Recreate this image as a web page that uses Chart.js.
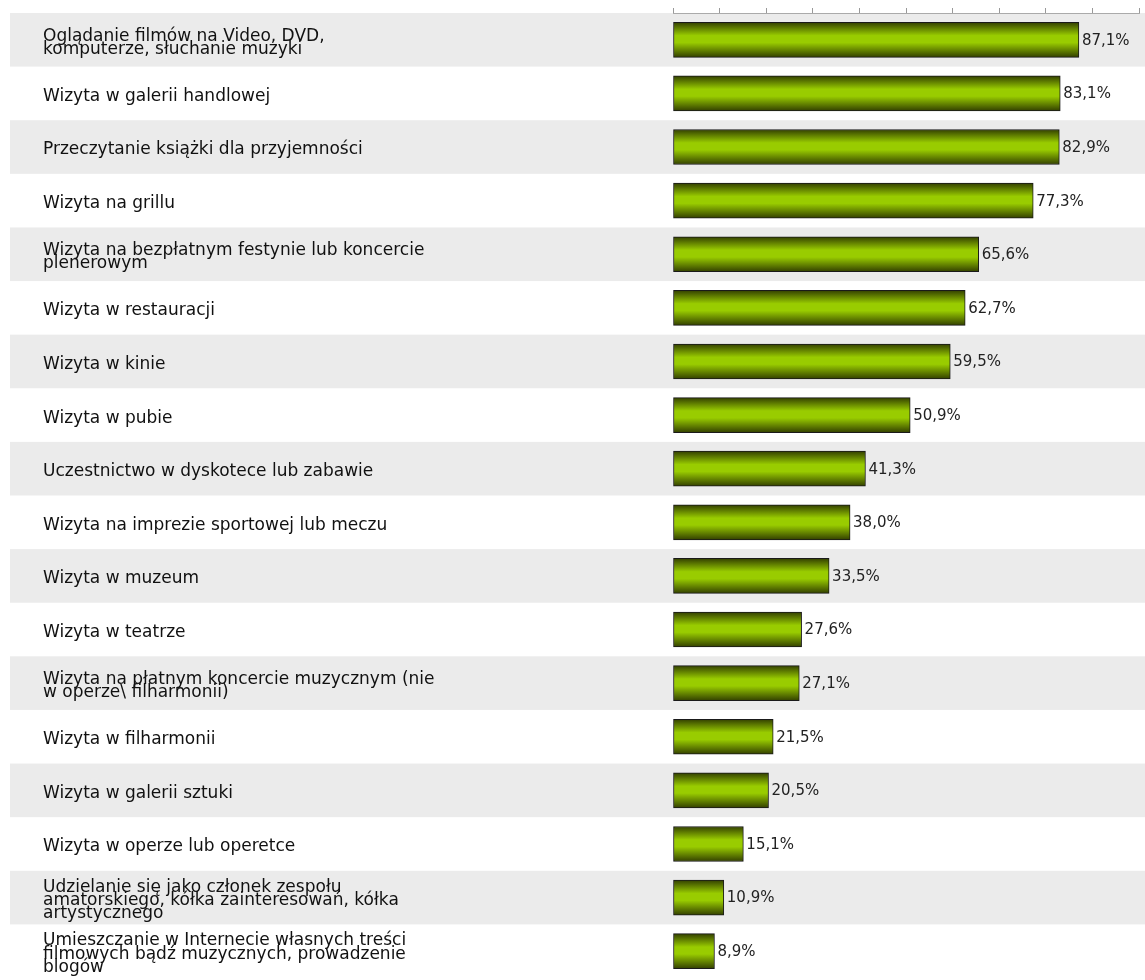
<!DOCTYPE html>
<html>
<head>
<meta charset="utf-8">
<script src="https://cdn.jsdelivr.net/npm/chart.js@4/dist/chart.umd.min.js"></script>
<style>
    body { margin: 0; background: #fff; }
    #wrap { width: 1145px; height: 980px; position: relative; }
</style>
</head>
<body>
<div id="wrap"><canvas id="leisureChart"></canvas></div>
<script>
const activityLabels = [
    ["Oglądanie filmów na Video, DVD,", "komputerze, słuchanie muzyki"],
    "Wizyta w galerii handlowej",
    "Przeczytanie książki dla przyjemności",
    "Wizyta na grillu",
    ["Wizyta na bezpłatnym festynie lub koncercie", "plenerowym"],
    "Wizyta w restauracji",
    "Wizyta w kinie",
    "Wizyta w pubie",
    "Uczestnictwo w dyskotece lub zabawie",
    "Wizyta na imprezie sportowej lub meczu",
    "Wizyta w muzeum",
    "Wizyta w teatrze",
    ["Wizyta na płatnym koncercie muzycznym (nie", "w operze\\ filharmonii)"],
    "Wizyta w filharmonii",
    "Wizyta w galerii sztuki",
    "Wizyta w operze lub operetce",
    ["Udzielanie się jako członek zespołu", "amatorskiego, kółka zainteresowań, kółka", "artystycznego"],
    ["Umieszczanie w Internecie własnych treści", "filmowych bądź muzycznych, prowadzenie", "blogów"],
];

const activityValues = [
    87.1, 83.1, 82.9, 77.3, 65.6, 62.7, 59.5, 50.9, 41.3,
    38.0, 33.5, 27.6, 27.1, 21.5, 20.5, 15.1, 10.9, 8.9,
];

const axisMin = 0;
const axisMax = 100;
const axisStep = 10;

const FONT = "'DejaVu Sans', sans-serif";

// grey / white stripes behind every row
const rowBands = {
    id: 'rowBands',
    beforeDraw(chart) {
        const ctx = chart.ctx;
        const y = chart.scales.y;
        const half = (y.bottom - y.top) / activityLabels.length / 2;
        ctx.save();
        ctx.fillStyle = '#ebebeb';
        activityLabels.forEach((l, i) => {
            if (i % 2 === 0) {
                const cy = y.getPixelForValue(i);
                ctx.fillRect(10, cy - half, chart.width - 10, half * 2);
            }
        });
        ctx.restore();
    }
};

// "87,1%" after each bar
const valueLabels = {
    id: 'valueLabels',
    afterDatasetsDraw(chart) {
        const ctx = chart.ctx;
        const meta = chart.getDatasetMeta(0);
        ctx.save();
        ctx.font = '15px ' + FONT;
        ctx.fillStyle = '#222';
        ctx.textBaseline = 'middle';
        meta.data.forEach((bar, i) => {
            const txt = activityValues[i].toFixed(1).replace('.', ',') + '%';
            ctx.fillText(txt, bar.x + 3, bar.y + 1);
        });
        ctx.restore();
    }
};

function barGradient(context) {
    const chart = context.chart;
    if (!chart.chartArea) return '#99cc00';
    const y = chart.scales.y;
    const cy = y.getPixelForValue(context.dataIndex);
    const h = 35;
    const g = chart.ctx.createLinearGradient(0, cy - h / 2, 0, cy + h / 2);
    g.addColorStop(0, '#334000');
    g.addColorStop(0.38, '#99cc00');
    g.addColorStop(0.58, '#99cc00');
    g.addColorStop(1, '#334000');
    return g;
}

const config = {
    type: 'bar',
    data: {
        labels: activityLabels,
        datasets: [{
            data: activityValues,
            backgroundColor: barGradient,
            borderColor: '#1a1a1a',
            borderWidth: 1,
            borderSkipped: false,
            barThickness: 35,
        }]
    },
    options: {
        indexAxis: 'y',
        responsive: true,
        maintainAspectRatio: false,
        animation: false,
        layout: { padding: { left: 43, right: 6, top: 0, bottom: 2 } },
        plugins: {
            legend: { display: false },
            tooltip: { enabled: false },
        },
        scales: {
            x: {
                position: 'top',
                min: axisMin,
                max: axisMax,
                ticks: { display: false, stepSize: axisStep },
                grid: { drawOnChartArea: false, tickLength: 5, color: '#999' },
                border: { color: '#aaa' },
                afterFit(scale) {
                    scale.height = 13;
                    scale.paddingLeft = 0;
                    scale.paddingRight = 0;
                },
            },
            y: {
                grid: { display: false },
                border: { display: false },
                ticks: {
                    crossAlign: 'far',
                    color: '#111',
                    labelOffset: 3,
                    font: { family: FONT, size: 17, lineHeight: 0.78 },
                    autoSkip: false,
                },
                afterFit(scale) {
                    scale.width = 673 - 43;
                    scale.paddingTop = 0;
                    scale.paddingBottom = 0;
                },
            }
        }
    },
    plugins: [rowBands, valueLabels],
};

const leisureChart = new Chart(document.getElementById('leisureChart'), config);
</script>
</body>
</html>
